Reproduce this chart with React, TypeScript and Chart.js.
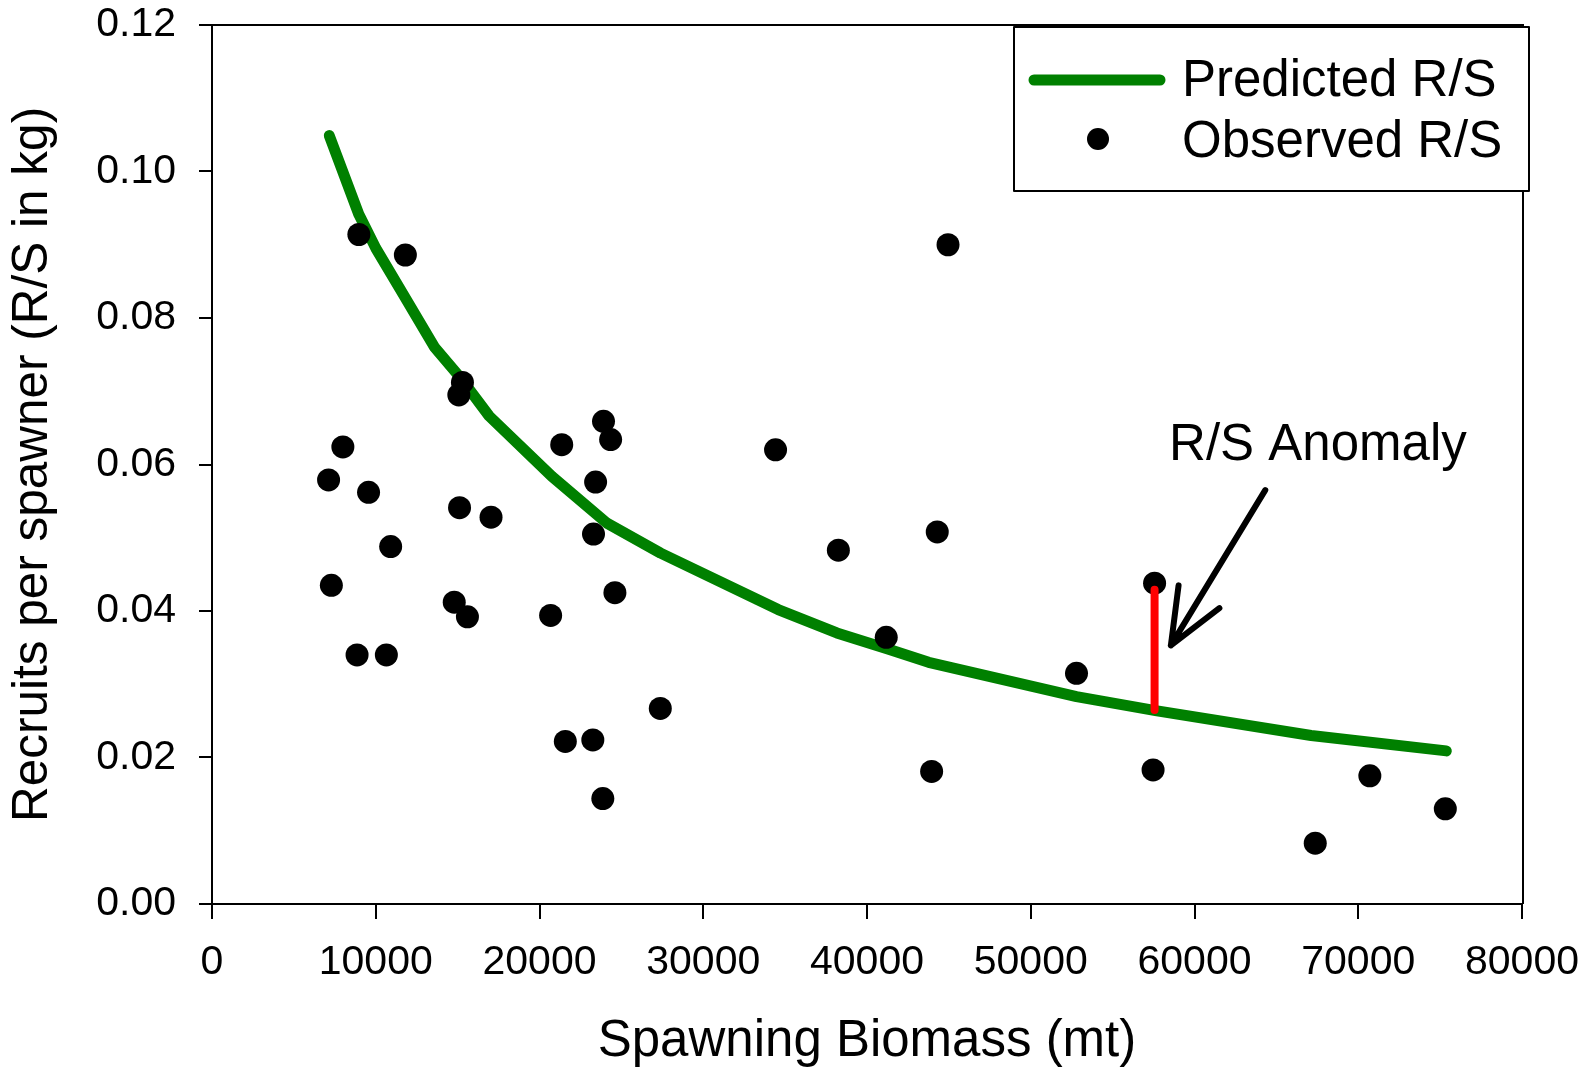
import React, { useEffect, useRef } from "react";
import { Chart, registerables } from "chart.js";

Chart.register(...registerables);

// ---- data ----
const observedBiomass = [
  7119, 7290, 7992, 8859, 8969, 9561, 10648, 10911, 11808, 14793, 15074, 15117, 15294,
  15599, 17040, 20679, 21357, 21577, 23256, 23298, 23427, 23866, 23909, 24343, 24605,
  27377, 34416, 38251, 41175, 43947, 44290, 44948, 52794, 57470, 57562, 67374, 70708, 75317,
];
const observedRS = [
  0.0579, 0.0435, 0.0624, 0.034, 0.0914, 0.0562, 0.034, 0.0488, 0.0886, 0.0412, 0.0695,
  0.0541, 0.0712, 0.0392, 0.0528, 0.0394, 0.0627, 0.0222, 0.0224, 0.0505, 0.0576, 0.0144,
  0.0659, 0.0634, 0.0425, 0.0267, 0.062, 0.0483, 0.0364, 0.0181, 0.0508, 0.09, 0.0315,
  0.0183, 0.0438, 0.0083, 0.0175, 0.013,
];
const predictedBiomass = [
  7162, 8957, 10008, 11737, 13591, 15185, 16931, 20747, 24117, 27396, 34575, 38159, 41273,
  43764, 52794, 57623, 67123, 75378,
];
const predictedRS = [
  0.1049, 0.0942, 0.0895, 0.0830, 0.0760, 0.0718, 0.0666, 0.0584, 0.052, 0.0479, 0.0402,
  0.037, 0.0348, 0.033, 0.0283, 0.0264, 0.023, 0.0209,
];

// anomaly marker (observed vs predicted at one year)
const anomalyBiomass = 57562;
const anomalyRange = [0.0429, 0.0265];
// arrow: tail, tip, head ends  [biomass, R/S]
const arrowTail = [64321, 0.0565];
const arrowTip = [58558, 0.0353];
const arrowHeadA = [59028, 0.0435];
const arrowHeadB = [61520, 0.0404];
const annotationText = "R/S Anomaly";
const annotationAt = [58450, 0.0625];

const legendLabels = ["Predicted R/S", "Observed R/S"];
const xTitle = "Spawning Biomass (mt)";
const yTitle = "Recruits per spawner (R/S in kg)";
const xRange = [0, 80000, 10000];
const yRange = [0, 0.12, 0.02];

const FONT = '"Liberation Sans", Arial, Helvetica, sans-serif';
const GREEN = "rgb(0,128,0)";

const zeroPad = (s: any) => {
  s.paddingTop = 0;
  s.paddingBottom = 0;
  s.paddingLeft = 0;
  s.paddingRight = 0;
};

const overlayPlugin = {
  id: "overlay",
  afterDatasetsDraw(chart: any) {
    const { ctx, chartArea: ca, scales } = chart;
    const xs = scales.x;
    const ys = scales.y;
    const px = (p: number[]) => [xs.getPixelForValue(p[0]), ys.getPixelForValue(p[1])];
    ctx.save();
    // frame (top and right)
    ctx.strokeStyle = "#000";
    ctx.lineWidth = 2;
    ctx.beginPath();
    ctx.moveTo(ca.left, ca.top);
    ctx.lineTo(ca.right + 2, ca.top);
    ctx.moveTo(ca.right + 1, ca.top);
    ctx.lineTo(ca.right + 1, ca.bottom);
    ctx.stroke();

    // anomaly red segment
    const ax = xs.getPixelForValue(anomalyBiomass);
    ctx.strokeStyle = "rgb(255,0,0)";
    ctx.lineWidth = 8;
    ctx.lineCap = "round";
    ctx.beginPath();
    ctx.moveTo(ax, ys.getPixelForValue(anomalyRange[0]));
    ctx.lineTo(ax, ys.getPixelForValue(anomalyRange[1]));
    ctx.stroke();

    // arrow
    const t = px(arrowTail);
    const p = px(arrowTip);
    const ha = px(arrowHeadA);
    const hb = px(arrowHeadB);
    ctx.strokeStyle = "#000";
    ctx.lineWidth = 6;
    ctx.lineCap = "round";
    ctx.lineJoin = "round";
    ctx.beginPath();
    ctx.moveTo(t[0], t[1]);
    ctx.lineTo(p[0], p[1]);
    ctx.moveTo(ha[0], ha[1]);
    ctx.lineTo(p[0], p[1]);
    ctx.lineTo(hb[0], hb[1]);
    ctx.stroke();

    // annotation text
    const a = px(annotationAt);
    ctx.fillStyle = "#000";
    ctx.font = `51px ${FONT}`;
    ctx.textAlign = "left";
    ctx.textBaseline = "middle";
    ctx.fillText(annotationText, a[0], a[1]);

    // legend
    const bx = ca.right - 508;
    const by = ca.top + 2;
    const bw = 515;
    const bh = 164;
    ctx.fillStyle = "#fff";
    ctx.fillRect(bx, by, bw, bh);
    ctx.strokeStyle = "#000";
    ctx.lineWidth = 2;
    ctx.strokeRect(bx, by, bw, bh);

    ctx.strokeStyle = GREEN;
    ctx.lineWidth = 11;
    ctx.lineCap = "round";
    ctx.beginPath();
    ctx.moveTo(bx + 20, by + 53);
    ctx.lineTo(bx + 146, by + 53);
    ctx.stroke();

    ctx.fillStyle = "#000";
    ctx.beginPath();
    ctx.arc(bx + 84, by + 112, 11, 0, Math.PI * 2);
    ctx.fill();

    ctx.font = `51px ${FONT}`;
    ctx.textAlign = "left";
    ctx.textBaseline = "middle";
    ctx.fillText(legendLabels[0], bx + 168, by + 55);
    ctx.fillText(legendLabels[1], bx + 168, by + 116);
    ctx.restore();
  },
};

export default function App() {
  const ref = useRef<HTMLCanvasElement | null>(null);
  useEffect(() => {
    if (!ref.current) return;
    const chart = new Chart(ref.current, {
      type: "scatter",
      data: {
        datasets: [
          {
            label: legendLabels[1],
            data: observedBiomass.map((x, i) => ({ x, y: observedRS[i] })),
            pointRadius: 11.5,
            pointBorderWidth: 0,
            pointBackgroundColor: "#000",
            pointBorderColor: "#000",
            showLine: false,
          },
          {
            label: legendLabels[0],
            data: predictedBiomass.map((x, i) => ({ x, y: predictedRS[i] })),
            showLine: true,
            borderColor: GREEN,
            borderWidth: 11,
            borderCapStyle: "round",
            borderJoinStyle: "round",
            pointRadius: 0,
            tension: 0,
          } as any,
        ],
      },
      options: {
        responsive: false,
        animation: false,
        devicePixelRatio: 1,
        layout: { padding: { left: 0, top: 25, right: 64, bottom: 0 } },
        plugins: { legend: { display: false }, tooltip: { enabled: false } },
        scales: {
          x: {
            type: "linear",
            min: xRange[0],
            max: xRange[1],
            afterFit: (s: any) => {
              s.height = 166;
              zeroPad(s);
            },
            ticks: {
              stepSize: xRange[2],
              color: "#000",
              font: { family: FONT, size: 41 },
              padding: 19,
              maxRotation: 0,
              callback: (v: any) => String(v),
            },
            grid: {
              drawOnChartArea: false,
              drawTicks: true,
              tickLength: 15,
              color: "#000",
              lineWidth: 2,
            },
            border: { display: true, color: "#000", width: 2 },
            title: {
              display: true,
              text: xTitle,
              color: "#000",
              font: { family: FONT, size: 51, lineHeight: 1.1 },
              padding: { top: 0, bottom: 0 },
            },
          },
          y: {
            type: "linear",
            min: yRange[0],
            max: yRange[1],
            afterFit: (s: any) => {
              s.width = 212;
              zeroPad(s);
            },
            ticks: {
              stepSize: yRange[2],
              color: "#000",
              font: { family: FONT, size: 41 },
              padding: 23,
              callback: (v: any) => Number(v).toFixed(2),
            },
            grid: {
              drawOnChartArea: false,
              drawTicks: true,
              tickLength: 13,
              color: "#000",
              lineWidth: 2,
            },
            border: { display: true, color: "#000", width: 2 },
            title: {
              display: true,
              text: yTitle,
              color: "#000",
              font: { family: FONT, size: 49.5, lineHeight: 1.1 },
              padding: { top: 6, bottom: 0 },
            },
          },
        },
      } as any,
      plugins: [overlayPlugin],
    });
    return () => chart.destroy();
  }, []);

  return (
    <div style={{ position: "absolute", left: 0, top: 0, width: 1586, height: 1070, background: "#fff" }}>
      <canvas ref={ref} width={1586} height={1070} style={{ display: "block", width: 1586, height: 1070 }} />
    </div>
  );
}
